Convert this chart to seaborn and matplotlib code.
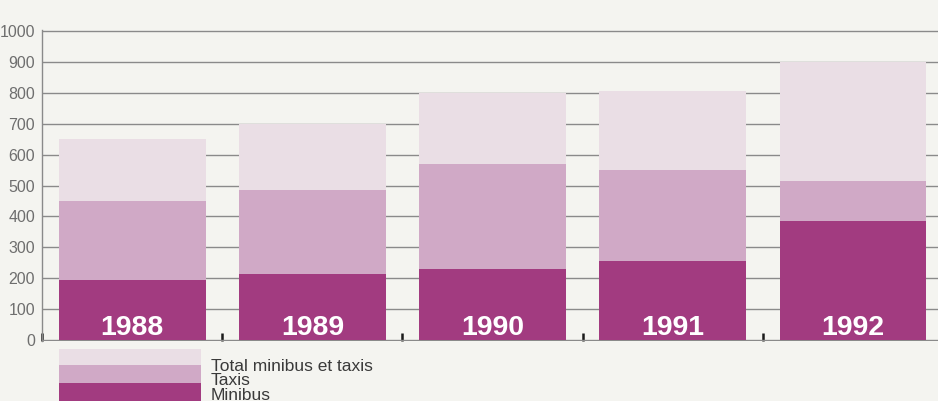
import matplotlib
matplotlib.use("Agg")
import matplotlib.pyplot as plt
import numpy as np
import pandas as pd
import seaborn as sns
from matplotlib.patches import Rectangle

# Values per year (levels read on the 0-1000 scale)
years = ["1988", "1989", "1990", "1991", "1992"]
minibus = [195, 215, 230, 255, 385]          # top of the minibus band
taxis_level = [450, 485, 570, 550, 515]      # top of the taxis band
total_level = [650, 700, 800, 805, 900]      # total minibus et taxis
yticks = list(range(0, 1001, 100))
legend_labels = ["Total minibus et taxis", "Taxis", "Minibus"]

PAPER = "#f4f4f0"
C_TOTAL = "#eadee5"
C_TAXIS = "#d0a9c6"
C_MINI = "#a23b80"
GRID = "#8a8a8a"

sns.set_theme(style="white")
plt.rcParams["font.family"] = ["Liberation Sans", "DejaVu Sans"]

W, H = 938, 401
fig = plt.figure(figsize=(W / 100, H / 100), dpi=100, facecolor=PAPER)

# axes: value 0 at y=340 px, 1000 at y=31 px, left edge at x=42 px
px_per_unit = 309 / 1000
y_lo, y_hi = -4, 1004
bottom_px = 340 + (0 - y_lo) * px_per_unit
height_px = (y_hi - y_lo) * px_per_unit
ax = fig.add_axes([42 / W, (H - bottom_px) / H, 1 - 42 / W, height_px / H])
ax.set_facecolor(PAPER)

df = pd.DataFrame({"year": years, "minibus": minibus,
                   "taxis": taxis_level, "total": total_level})

for col, colour in [("total", C_TOTAL), ("taxis", C_TAXIS), ("minibus", C_MINI)]:
    sns.barplot(data=df, x="year", y=col, color=colour, saturation=1,
                width=0.815, errorbar=None, linewidth=0, ax=ax, zorder=2)

# year labels inside the minibus band
for i, yr in enumerate(years):
    ax.text(i, 16, yr, ha="center", va="baseline", color="white",
            fontsize=20.5, fontweight="bold",
            family=["Liberation Sans", "DejaVu Sans"], zorder=3)

centre_px = 42 + 90
step_px = 180.25
ax.set_xlim(-0.5, (W - centre_px) / step_px)
ax.set_ylim(y_lo, y_hi)

ax.set_yticks(yticks)
ax.set_yticklabels([str(v) for v in yticks])
ax.tick_params(axis="y", length=0, pad=5, labelsize=11.5, labelcolor="#6e6e6e")

ax.set_xticks(np.arange(len(years)) - 0.5)
ax.set_xticklabels([])
ax.tick_params(axis="x", direction="in", length=6, width=1.8,
               color="#1a1a1a", bottom=True)

ax.set_axisbelow(True)
ax.grid(axis="y", color=GRID, linewidth=1.0)
ax.grid(axis="x", visible=False)
for side in ["top", "right", "bottom"]:
    ax.spines[side].set_visible(False)
ax.spines["left"].set_color(GRID)
ax.spines["left"].set_linewidth(1.0)
ax.set_xlabel("")
ax.set_ylabel("")

# stacked legend swatches with labels to the right
sw_x0, sw_x1 = 59, 201
rows = [(349, 365, C_TOTAL), (365, 383, C_TAXIS), (383, 402, C_MINI)]
for top, bot, colour in rows:
    fig.add_artist(Rectangle((sw_x0 / W, (H - bot) / H), (sw_x1 - sw_x0) / W,
                             (bot - top) / H, transform=fig.transFigure,
                             facecolor=colour, edgecolor="none"))
for label, base in zip(legend_labels, [371, 385, 399.5]):
    fig.text(211 / W, (H - base) / H, label, ha="left", va="baseline",
             fontsize=12.5, color="#3a3a3a")

fig.savefig("out.png", dpi=100, facecolor=PAPER)
